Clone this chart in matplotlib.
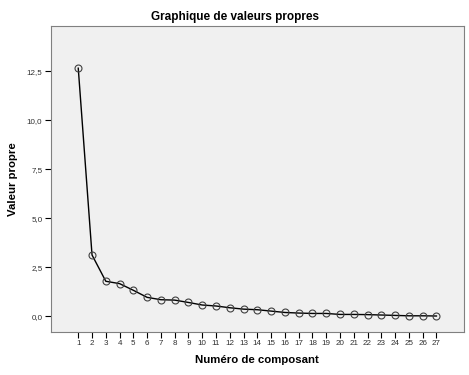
import matplotlib
matplotlib.use("Agg")
import matplotlib.pyplot as plt
from matplotlib.ticker import FuncFormatter

# eigenvalues
components = list(range(1, 28))
eigenvalues = [12.65, 3.13, 1.79, 1.67, 1.33, 0.97, 0.85, 0.83, 0.71, 0.58,
               0.53, 0.44, 0.37, 0.34, 0.27, 0.20, 0.17, 0.15, 0.15, 0.10,
               0.10, 0.09, 0.07, 0.05, 0.03, 0.03, 0.02]
y_ticks = [0.0, 2.5, 5.0, 7.5, 10.0, 12.5]

plt.rcParams["font.family"] = ["Liberation Sans", "DejaVu Sans"]

fig = plt.figure(figsize=(4.69, 3.75), dpi=100)
ax = fig.add_axes([50.7 / 469, 1 - 331.5 / 375, (464 - 50.7) / 469, (331.5 - 26) / 375])
ax.set_facecolor("#f0f0f0")
for side in ax.spines.values():
    side.set_color("#808080")
    side.set_linewidth(0.8)

ax.plot(components, eigenvalues, color="black", linewidth=1.0,
        marker="o", markersize=5, markerfacecolor="none",
        markeredgecolor="#404040", markeredgewidth=0.8)

ax.set_xlim(-1.0, 29.0)
ax.set_ylim(-0.77, 14.8)
ax.set_xticks(components)
ax.set_yticks(y_ticks)
ax.yaxis.set_major_formatter(FuncFormatter(lambda v, _: f"{v:.1f}".replace(".", ",")))
ax.tick_params(axis="both", direction="out", length=4, width=0.8,
               color="black", labelsize=5.8, labelcolor="#303030", pad=2)

# title is centred on the whole figure, not on the plot area
fig.text(0.5, 1 - 17 / 375, "Graphique de valeurs propres", ha="center", va="center",
         fontsize=8.5, fontweight="bold")
ax.set_xlabel("Numéro de composant", fontsize=8.2, fontweight="bold", labelpad=6)
ax.set_ylabel("Valeur propre", fontsize=8.2, fontweight="bold", labelpad=6)

fig.savefig("out.png", dpi=100, facecolor="white")
